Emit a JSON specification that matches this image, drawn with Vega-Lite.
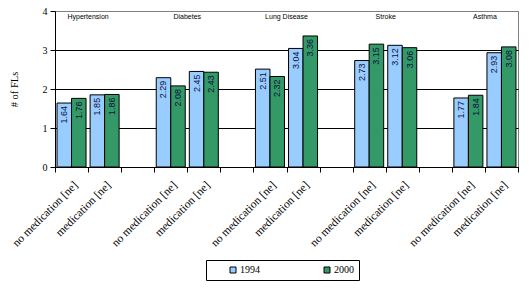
{
  "$schema": "https://vega.github.io/schema/vega-lite/v6.json",
  "width": 463,
  "height": 156,
  "autosize": "none",
  "padding": {"left": 55, "top": 11, "right": 11, "bottom": 123},
  "background": "white",
  "config": {
    "view": {"stroke": "#808080", "strokeWidth": 1},
    "axis": {"labelColor": "black", "tickColor": "black", "domainColor": "black"}
  },
  "datasets": {
    "bars": [
      {"cond": "Hypertension", "cat": "Hypertension|no medication [ne]", "year": "1994", "value": 1.64},
      {"cond": "Hypertension", "cat": "Hypertension|no medication [ne]", "year": "2000", "value": 1.76},
      {"cond": "Hypertension", "cat": "Hypertension|medication [ne]", "year": "1994", "value": 1.85},
      {"cond": "Hypertension", "cat": "Hypertension|medication [ne]", "year": "2000", "value": 1.86},
      {"cond": "Diabetes", "cat": "Diabetes|no medication [ne]", "year": "1994", "value": 2.29},
      {"cond": "Diabetes", "cat": "Diabetes|no medication [ne]", "year": "2000", "value": 2.08},
      {"cond": "Diabetes", "cat": "Diabetes|medication [ne]", "year": "1994", "value": 2.45},
      {"cond": "Diabetes", "cat": "Diabetes|medication [ne]", "year": "2000", "value": 2.43},
      {"cond": "Lung Disease", "cat": "Lung Disease|no medication [ne]", "year": "1994", "value": 2.51},
      {"cond": "Lung Disease", "cat": "Lung Disease|no medication [ne]", "year": "2000", "value": 2.32},
      {"cond": "Lung Disease", "cat": "Lung Disease|medication [ne]", "year": "1994", "value": 3.04},
      {"cond": "Lung Disease", "cat": "Lung Disease|medication [ne]", "year": "2000", "value": 3.36},
      {"cond": "Stroke", "cat": "Stroke|no medication [ne]", "year": "1994", "value": 2.73},
      {"cond": "Stroke", "cat": "Stroke|no medication [ne]", "year": "2000", "value": 3.15},
      {"cond": "Stroke", "cat": "Stroke|medication [ne]", "year": "1994", "value": 3.12},
      {"cond": "Stroke", "cat": "Stroke|medication [ne]", "year": "2000", "value": 3.06},
      {"cond": "Asthma", "cat": "Asthma|no medication [ne]", "year": "1994", "value": 1.77},
      {"cond": "Asthma", "cat": "Asthma|no medication [ne]", "year": "2000", "value": 1.84},
      {"cond": "Asthma", "cat": "Asthma|medication [ne]", "year": "1994", "value": 2.93},
      {"cond": "Asthma", "cat": "Asthma|medication [ne]", "year": "2000", "value": 3.08}
    ],
    "condlabels": [
      {"cond": "Hypertension", "cat": "Hypertension|no medication [ne]", "value": 4},
      {"cond": "Diabetes", "cat": "Diabetes|no medication [ne]", "value": 4},
      {"cond": "Lung Disease", "cat": "Lung Disease|no medication [ne]", "value": 4},
      {"cond": "Stroke", "cat": "Stroke|no medication [ne]", "value": 4},
      {"cond": "Asthma", "cat": "Asthma|no medication [ne]", "value": 4}
    ]
  },
  "encoding": {
    "x": {
      "field": "cat",
      "type": "nominal",
      "sort": null,
      "scale": {
        "domain": [
          "Hypertension|no medication [ne]", "Hypertension|medication [ne]", "Hypertension|gap",
          "Diabetes|no medication [ne]", "Diabetes|medication [ne]", "Diabetes|gap",
          "Lung Disease|no medication [ne]", "Lung Disease|medication [ne]", "Lung Disease|gap",
          "Stroke|no medication [ne]", "Stroke|medication [ne]", "Stroke|gap",
          "Asthma|no medication [ne]", "Asthma|medication [ne]"
        ],
        "paddingInner": 0,
        "paddingOuter": 0
      },
      "axis": {
        "title": null,
        "tickBand": "extent",
        "tickSize": 5,
        "labelAngle": -45,
        "labelFont": "Liberation Serif",
        "labelFontSize": 11.5,
        "labelPadding": 7,
        "labelExpr": "indexof(datum.label, 'gap') >= 0 ? '' : split(datum.label, '|')[1]",
        "labelOverlap": false,
        "labelLimit": 200
      }
    },
    "y": {
      "field": "value",
      "type": "quantitative",
      "scale": {"domain": [0, 4], "nice": false, "zero": true},
      "axis": {
        "values": [0, 1, 2, 3, 4],
        "title": "# of FLs",
        "titleFont": "Liberation Serif",
        "titleFontSize": 10.5,
        "titleFontWeight": "normal",
        "titleX": -41,
        "titleY": 78,
        "titleAngle": -90,
        "titleAlign": "center",
        "titleBaseline": "middle",
        "labelFont": "Liberation Serif",
        "labelFontSize": 10,
        "labelPadding": 3,
        "tickSize": 5,
        "grid": true,
        "gridColor": {"condition": {"test": "datum.value == 4", "value": "#808080"}, "value": "black"},
        "gridOpacity": 1
      }
    }
  },
  "layer": [
    {
      "data": {"name": "bars"},
      "mark": {"type": "bar", "stroke": "black", "strokeWidth": 1},
      "encoding": {
        "xOffset": {"field": "year", "type": "nominal", "scale": {"paddingInner": 0, "paddingOuter": 0.14}},
        "color": {
          "field": "year",
          "type": "nominal",
          "scale": {"domain": ["1994", "2000"], "range": ["#99CCFF", "#339966"]},
          "legend": {
            "title": null,
            "orient": "none",
            "legendX": 151,
            "legendY": 249,
            "direction": "horizontal",
            "strokeColor": "black",
            "padding": 5,
            "symbolType": "square",
            "symbolSize": 36,
            "symbolStrokeColor": "black",
            "symbolStrokeWidth": 1,
            "symbolOffset": 17,
            "labelFont": "Liberation Serif",
            "labelFontSize": 10,
            "labelColor": "black",
            "labelOffset": 2,
            "columnPadding": 45,
            "labelExpr": "datum.label == '2000' ? datum.label + '         ' : datum.label"
          }
        }
      }
    },
    {
      "data": {"name": "bars"},
      "mark": {"type": "text", "angle": -90, "align": "right", "baseline": "middle", "dx": -3, "font": "Liberation Sans", "fontSize": 9, "color": "#101040"},
      "encoding": {
        "xOffset": {"field": "year", "type": "nominal", "scale": {"paddingInner": 0, "paddingOuter": 0.14}},
        "text": {"field": "value", "type": "quantitative", "format": ".2f"}
      }
    },
    {
      "data": {"name": "condlabels"},
      "mark": {"type": "text", "baseline": "top", "align": "center", "dy": 2, "font": "Liberation Sans", "fontSize": 7, "color": "black"},
      "encoding": {
        "x": {"field": "cat", "type": "nominal", "bandPosition": 1},
        "text": {"field": "cond", "type": "nominal"}
      }
    }
  ]
}
